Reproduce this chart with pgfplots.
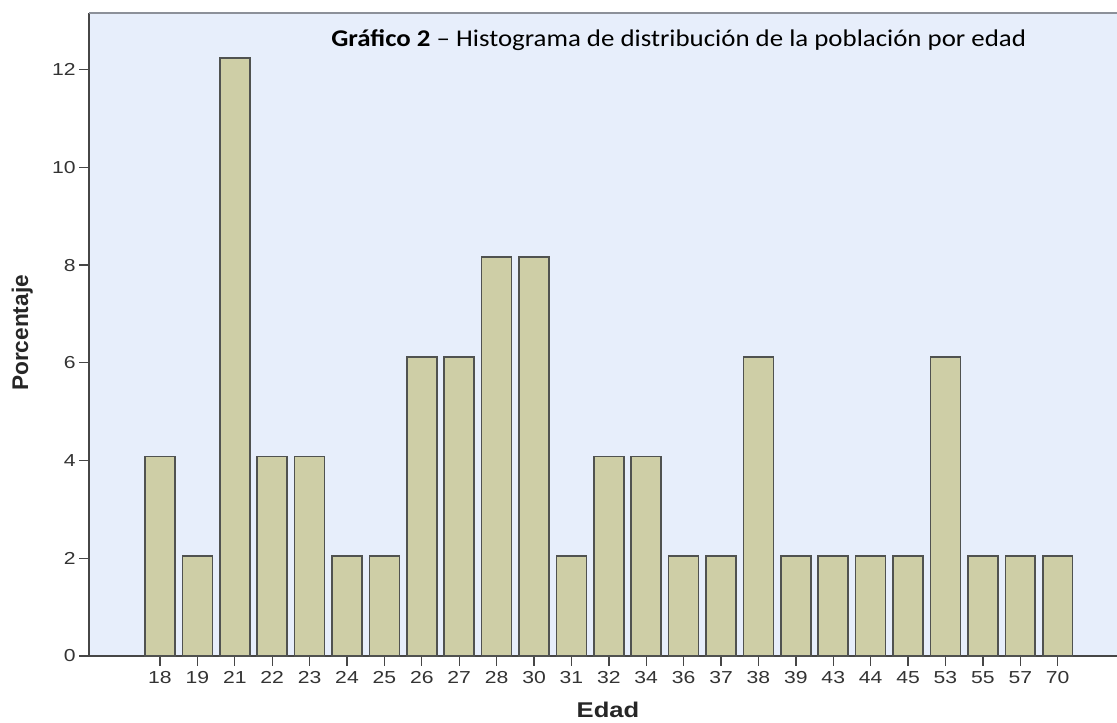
\documentclass[border=0pt]{standalone}
\usepackage{fontspec}
\setmainfont{Liberation Sans}
\newfontfamily\tickfont[FakeStretch=1.22]{Liberation Sans}
\newfontfamily\xlabfont[FakeStretch=1.2]{Liberation Sans}
\newfontfamily\ylabfont{Liberation Sans}
\newfontfamily\titlefont[FakeStretch=1.12]{Carlito}
\usepackage{pgfplots}
\pgfplotsset{compat=1.18}
\definecolor{plotbg}{RGB}{231,238,251}
\definecolor{barfill}{RGB}{206,206,166}
\definecolor{baredge}{RGB}{80,82,80}
\definecolor{axisdark}{RGB}{70,70,70}
\definecolor{topline}{RGB}{140,144,153}
\begin{document}
\begin{tikzpicture}
\path[use as bounding box] (0,0) rectangle (837.75pt,542.25pt);
\begin{axis}[
  at={(66.75pt,50.25pt)}, anchor=south west,
  scale only axis, width=772.5pt, height=482.25pt,
  xmin=-1.898, xmax=25.64, ymin=0, ymax=13.16,
  axis background/.style={fill=plotbg},
  axis x line*=bottom, axis y line*=left,
  axis line style={draw=axisdark, line width=1.1pt, -},
  xtick=data,
  xticklabels={18,19,21,22,23,24,25,26,27,28,30,31,32,34,36,37,38,39,43,44,45,53,55,57,70},
  ytick={0,2,4,6,8,10,12},
  tick align=outside, major tick length=7.5pt,
  tick style={draw=axisdark, line width=1pt},
  /pgf/number format/assume math mode=true,
  ticklabel style={font=\tickfont\fontsize{13}{14}\selectfont, text=black!80},
  xticklabel style={yshift=-0.5pt},
  yticklabel style={xshift=1pt},
  bar width=0.8, ybar, bar shift=0pt,
  clip=false,
]
\addplot[fill=barfill, draw=baredge, line width=1.2pt] coordinates {
  (0,4.0816) (1,2.0408) (2,12.2449) (3,4.0816) (4,4.0816) (5,2.0408) (6,2.0408)
  (7,6.1224) (8,6.1224) (9,8.1633) (10,8.1633) (11,2.0408) (12,4.0816) (13,4.0816)
  (14,2.0408) (15,2.0408) (16,6.1224) (17,2.0408) (18,2.0408) (19,2.0408) (20,2.0408)
  (21,6.1224) (22,2.0408) (23,2.0408) (24,2.0408)};
\draw[topline, line width=1.6pt] (rel axis cs:0,1) -- (rel axis cs:1,1);
\end{axis}
\node[anchor=base west, inner sep=0pt, font=\titlefont\fontsize{18}{20}\selectfont] at (248.25pt,507pt)
  {\textbf{Gráfico 2} – Histograma de distribución de la población por edad};
\node[anchor=base, inner sep=0pt, font=\xlabfont\bfseries\fontsize{16}{18}\selectfont, text=black!85] at (456pt,3.75pt) {Edad};
\node[rotate=90, anchor=base, inner sep=0pt, font=\ylabfont\bfseries\fontsize{17}{19}\selectfont, text=black!85] at (21pt,292.5pt) {Porcentaje};
\end{tikzpicture}
\end{document}
